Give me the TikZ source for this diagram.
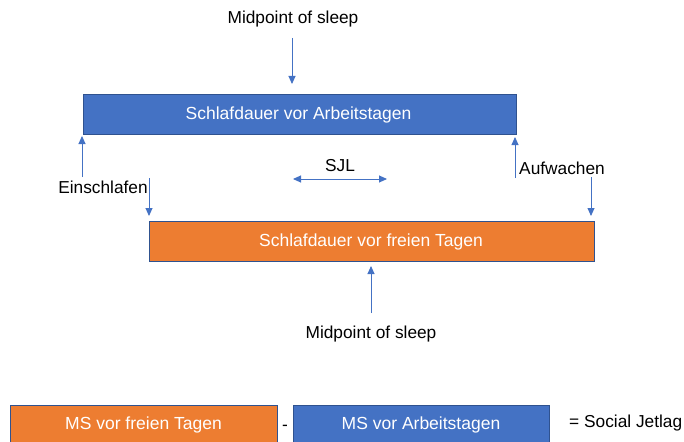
\documentclass[tikz,border=0pt]{standalone}
\usepackage{fontspec}
\setmainfont{Liberation Sans}
\usetikzlibrary{arrows.meta}
\definecolor{offblue}{HTML}{4472C4}
\definecolor{offorange}{HTML}{ED7D31}
\definecolor{edgeblue}{HTML}{2F528F}
\tikzset{
  bluebox/.style={draw=edgeblue, line width=0.8pt, fill=offblue},
  orangebox/.style={draw=edgeblue, line width=0.8pt, fill=offorange},
  boxtext/.style={text=white, font=\fontsize{17.5}{20}\selectfont, inner sep=0pt},
  lbl/.style={text=black, font=\fontsize{17.3}{20}\selectfont, inner sep=0pt},
  arr/.style={draw=offblue, line width=0.9pt, -{Triangle[width=7pt,length=8pt]}},
  darr/.style={draw=offblue, line width=0.9pt, {Triangle[width=7pt,length=8pt]}-{Triangle[width=7pt,length=8pt]}}
}
\begin{document}
\begin{tikzpicture}[x=1pt,y=-1pt]
\useasboundingbox (0,0) rectangle (684,441);
% top part
\node[lbl] (mstop) at (293,19) {Midpoint of sleep};
\coordinate (mstopS) at (292,38);
\path (83,94) coordinate (b1) (516,134) coordinate (b2);
\draw[bluebox] (b1) rectangle (b2);
\node[boxtext] (work) at (298.5,115) {Schlafdauer vor Arbeitstagen};
\coordinate (workTop) at (292,84);
\draw[arr] (mstopS) -- (workTop);

\path (149,221) coordinate (o1) (594,261) coordinate (o2);
\draw[orangebox] (o1) rectangle (o2);
\node[boxtext] (free) at (371,242) {Schlafdauer vor freien Tagen};

% Einschlafen
\node[lbl] (ein) at (103,187) {Einschlafen};
\coordinate (einA) at (82,177);
\coordinate (einAt) at (82,136);
\draw[arr] (einA) -- (einAt);
\coordinate (einB) at (149,178);
\coordinate (einBt) at (149,216);
\draw[arr] (einB) -- (einBt);

% Aufwachen
\node[lbl] (auf) at (562,168) {Aufwachen};
\coordinate (aufA) at (515,178);
\coordinate (aufAt) at (515,137);
\draw[arr] (aufA) -- (aufAt);
\coordinate (aufB) at (591,177);
\coordinate (aufBt) at (591,216);
\draw[arr] (aufB) -- (aufBt);

% SJL
\node[lbl] (sjl) at (340,166) {SJL};
\coordinate (sjlL) at (293,179);
\coordinate (sjlR) at (387,179);
\draw[darr] (sjlL) -- (sjlR);

% bottom midpoint
\node[lbl] (msbot) at (371,334) {Midpoint of sleep};
\coordinate (msbotN) at (371,313);
\coordinate (freeBot) at (371,266);
\draw[arr] (msbotN) -- (freeBot);

% formula
\draw[orangebox] (10,405) rectangle (277,450);
\node[boxtext] (msfree) at (143.5,425) {MS vor freien Tagen};
\node[lbl] (minus) at (285,428) {-};
\draw[bluebox] (293,405) rectangle (549,450);
\node[boxtext] (mswork) at (421,425) {MS vor Arbeitstagen};
\node[lbl, anchor=west] (eq) at (569,423) {= Social Jetlag};
\end{tikzpicture}
\end{document}
